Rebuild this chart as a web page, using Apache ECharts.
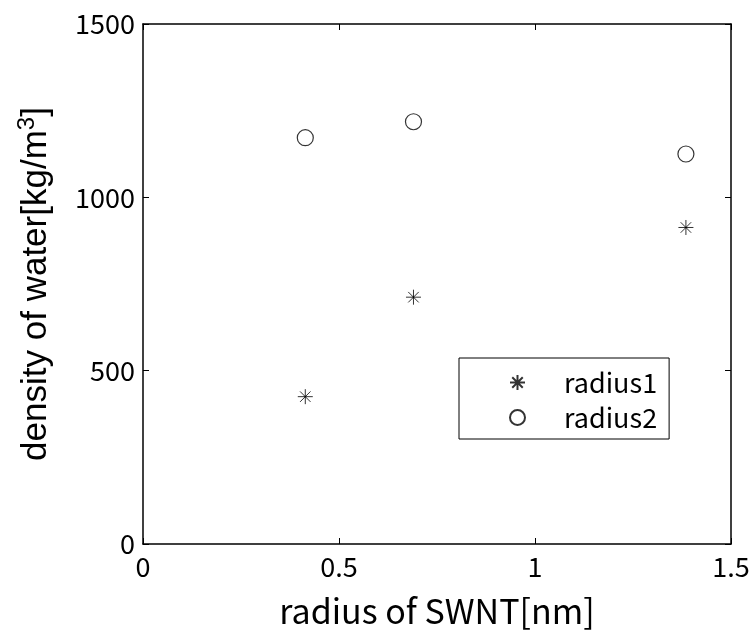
<!DOCTYPE html>
<html>
<head>
<meta charset="utf-8">
<script src="https://cdn.jsdelivr.net/npm/echarts@6/dist/echarts.min.js"></script>
<style>html,body{margin:0;padding:0;background:#fff}#c{width:753px;height:633px}</style>
</head>
<body>
<div id="c"></div>
<script>
const xRadius = [0.414, 0.69, 1.385];
const radius1 = [425, 712, 913];
const radius2 = [1172, 1218, 1125];
const xTicks = [0, 0.5, 1, 1.5];
const yTicks = [0, 500, 1000, 1500];
const seriesNames = ['radius1', 'radius2'];

const tickFont = '"Noto Sans CJK JP", sans-serif';
const sansFont = '"Liberation Sans", Arial, sans-serif';
const star = 'path://M0,-8L0,8M-8,0L8,0M-5.6,-5.6L5.6,5.6M-5.6,5.6L5.6,-5.6';

const chart = echarts.init(document.getElementById('c'), null, {renderer: 'canvas'});
const axisLineStyle = {color: '#000', width: 1.5};
chart.setOption({
  animation: false,
  backgroundColor: '#fff',
  grid: {left: 143, top: 24, right: 22, bottom: 88, containLabel: false},
  xAxis: [{
    type: 'value', min: 0, max: 1.5, interval: 0.5,
    name: 'radius of SWNT[nm]', nameLocation: 'middle', nameGap: 50,
    nameTextStyle: {fontSize: 34, fontFamily: tickFont, color: '#000'},
    axisLine: {show: true, onZero: false, lineStyle: axisLineStyle},
    axisTick: {show: true, inside: true, length: 6, lineStyle: {color: '#000'}},
    axisLabel: {fontSize: 27, fontFamily: tickFont, color: '#000', margin: 9,
      formatter: v => (xTicks.indexOf(v) >= 0 ? String(v) : '')},
    splitLine: {show: false}
  }, {
    type: 'value', min: 0, max: 1.5, interval: 0.5, position: 'top',
    axisLine: {show: true, onZero: false, lineStyle: axisLineStyle},
    axisTick: {show: true, inside: true, length: 6, lineStyle: {color: '#000'}},
    axisLabel: {show: false}, splitLine: {show: false}
  }],
  yAxis: [{
    type: 'value', min: 0, max: 1500, interval: 500,
    name: 'density of water[kg/m{sup|3}]', nameLocation: 'middle', nameGap: 86, nameRotate: 90,
    nameTextStyle: {fontSize: 35, fontFamily: sansFont, color: '#000',
      rich: {sup: {fontSize: 24, verticalAlign: 'bottom', padding: [0, 0, 18, 0], fontFamily: sansFont, color: '#000'}}},
    axisLine: {show: true, onZero: false, lineStyle: axisLineStyle},
    axisTick: {show: true, inside: true, length: 6, lineStyle: {color: '#000'}},
    axisLabel: {fontSize: 27, fontFamily: tickFont, color: '#000', margin: 8,
      formatter: v => (yTicks.indexOf(v) >= 0 ? String(v) : '')},
    splitLine: {show: false}
  }, {
    type: 'value', min: 0, max: 1500, interval: 500, position: 'right',
    axisLine: {show: true, onZero: false, lineStyle: axisLineStyle},
    axisTick: {show: true, inside: true, length: 6, lineStyle: {color: '#000'}},
    axisLabel: {show: false}, splitLine: {show: false}
  }],
  legend: {
    orient: 'vertical', left: 459, top: 358,
    padding: [11, 12, 8, 50],
    borderColor: '#000', borderWidth: 1, backgroundColor: '#fff',
    itemWidth: 15, itemHeight: 15, itemGap: 8,
    textStyle: {fontSize: 27, fontFamily: tickFont, color: '#000', lineHeight: 27, padding: [0, 0, 0, 34]},
    data: seriesNames
  },
  series: [{
    name: seriesNames[0], type: 'scatter', symbol: star, symbolSize: 15,
    itemStyle: {color: 'transparent', borderColor: '#000', borderWidth: 1},
    data: xRadius.map((x, i) => [x, radius1[i]])
  }, {
    name: seriesNames[1], type: 'scatter', symbol: 'circle', symbolSize: 16,
    itemStyle: {color: 'transparent', borderColor: '#000', borderWidth: 1.2},
    data: xRadius.map((x, i) => [x, radius2[i]])
  }]
});
</script>
</body>
</html>
